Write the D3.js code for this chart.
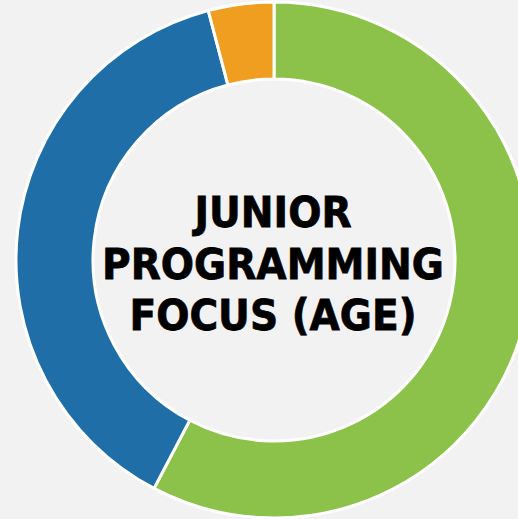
<!DOCTYPE html>
<html>
<head>
<meta charset="utf-8">
<script src="https://cdn.jsdelivr.net/npm/d3@7"></script>
<style>
  html, body { margin: 0; padding: 0; background: #f2f2f2; overflow: hidden; }
</style>
</head>
<body>
<script>
const width = 518;
const height = 519;

// age groups share
const groups = ['Green group', 'Blue group', 'Orange group'];
const shares = [57.7, 38.2, 4.1];
const colors = ['#8cc24a', '#1f6ea8', '#f09e1f'];
const titleLines = ['JUNIOR', 'PROGRAMMING', 'FOCUS (AGE)'];

const cx = 274, cy = 260;
const outerR = 258, innerR = 181;

const svg = d3.select('body').append('svg')
  .attr('width', width)
  .attr('height', height);

svg.append('rect')
  .attr('width', width)
  .attr('height', height)
  .attr('fill', '#f2f2f2');

const g = svg.append('g')
  .attr('transform', `translate(${cx},${cy})`);

const pie = d3.pie()
  .sort(null)
  .value(d => d);

const arc = d3.arc()
  .innerRadius(innerR)
  .outerRadius(outerR);

g.selectAll('.slice')
  .data(pie(shares))
  .enter()
  .append('path')
  .attr('class', 'slice')
  .attr('d', arc)
  .attr('fill', (d, i) => colors[i])
  .attr('stroke', '#ffffff')
  .attr('stroke-width', 3)
  .append('title')
  .text((d, i) => groups[i]);

// title in the hole, slightly condensed to match the original's heavier face
const lineH = 51.5;
g.selectAll('.title')
  .data(titleLines)
  .enter()
  .append('text')
  .attr('class', 'title')
  .attr('transform', (d, i) => `translate(-1,${(i - 1) * lineH + 18.5}) scale(0.91,1)`)
  .attr('text-anchor', 'middle')
  .attr('font-family', 'DejaVu Sans, Verdana, sans-serif')
  .attr('font-weight', 'bold')
  .attr('font-size', 43)
  .attr('fill', '#000')
  .attr('stroke', '#000')
  .attr('stroke-width', 0.8)
  .text(d => d);
</script>
</body>
</html>
